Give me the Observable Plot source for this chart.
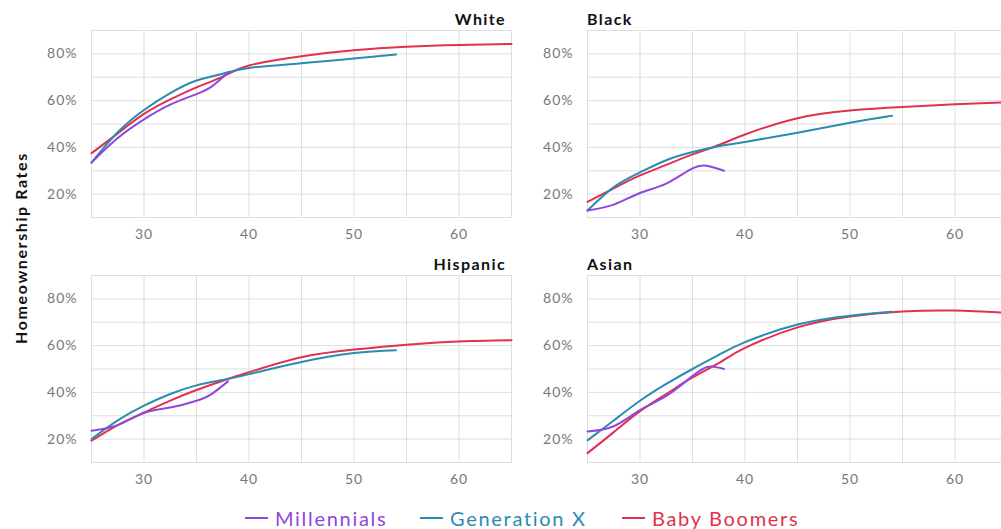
<!DOCTYPE html>
<html>
<head>
<meta charset="utf-8">
<script src="https://cdn.jsdelivr.net/npm/d3@7"></script>
<script src="https://cdn.jsdelivr.net/npm/@observablehq/plot@0.6"></script>
<style>
  html, body { margin: 0; padding: 0; background: #fff; overflow: hidden; }
  body { width: 1001px; height: 529px; position: relative; font-family: Lato, "Open Sans", sans-serif; }
  .panel { position: absolute; }
  .panel svg { max-width: none !important; display: block; }
  .title { position: absolute; font-weight: 700; font-size: 16px; letter-spacing: 1.4px; color: #111; line-height: 1; white-space: nowrap; }
  .ylabel { position: absolute; font-weight: 700; font-size: 16px; letter-spacing: 1.6px; color: #111; white-space: nowrap; line-height: 1;
            transform: translate(-50%, -50%) rotate(-90deg); left: 21px; top: 248px; }
  .leg { position: absolute; top: 507px; font-size: 20px; letter-spacing: 1.7px; line-height: 22px; white-space: nowrap; display: flex; align-items: center; }
  .leg span.sw { display: inline-block; width: 23px; height: 2px; margin-right: 7px; }
</style>
</head>
<body>
<div id="root"></div>
<script>
// ---- data ----
const generations = ["Baby Boomers", "Generation X", "Millennials"];
const genColors = ["#e2304f", "#2b8cb1", "#9047dc"];

const boomerAges = [25, 27.5, 30, 32.5, 35, 37.5, 40, 45, 50, 55, 60, 65];
const genXAges   = [25, 27.5, 30, 32.5, 35, 37.5, 40, 45, 50, 54];
const millAges   = [25, 27.5, 30, 32.5, 35, 36.5, 38];

const whiteBoomers = [37.5, 46, 54.3, 60.5, 65.7, 70.3, 75, 79, 81.5, 83, 83.8, 84.2];
const whiteGenX    = [33.5, 46.5, 56, 63.2, 68.6, 71.5, 74, 76, 78, 79.7];
const whiteMill    = [33.5, 44, 52, 58.3, 62.8, 66.2, 72];

const blackBoomers = [16.7, 22.5, 28, 32.5, 37, 41, 45.5, 52.5, 55.8, 57.3, 58.4, 59.3];
const blackGenX    = [13, 23, 29.3, 34.5, 38, 40.5, 42.3, 46.3, 50.5, 53.5];
const blackMill    = [13, 15.5, 20.5, 24.5, 31, 32, 30];

const hispBoomers  = [19.3, 26, 31.4, 36.5, 41, 45, 48.6, 55, 58.3, 60.4, 61.8, 62.3];
const hispGenX     = [20, 28, 34.3, 39.3, 43, 45.3, 47.8, 53, 56.8, 58];
const hispMill     = [23.6, 26, 31.2, 33.5, 36.4, 39.5, 44.7];

const asianBoomers = [14, 23, 32, 39.3, 46.4, 52.5, 59, 67.8, 72.5, 74.6, 75, 74];
const asianGenX    = [19.5, 28, 36.4, 43.6, 50, 56, 61.5, 69, 72.8, 74.5];
const asianMill    = [23.3, 25.5, 32.4, 38.5, 47, 51, 50];

const xTicks = [30, 40, 50, 60];
const yTicks = [20, 40, 60, 80];

const panels = [
  {name: "White",    b: whiteBoomers, g: whiteGenX, m: whiteMill, left: 0,   top: 0,   ml: 91, align: "right"},
  {name: "Black",    b: blackBoomers, g: blackGenX, m: blackMill, left: 500, top: 0,   ml: 87, align: "left"},
  {name: "Hispanic", b: hispBoomers,  g: hispGenX,  m: hispMill,  left: 0,   top: 245, ml: 91, align: "right"},
  {name: "Asian",    b: asianBoomers, g: asianGenX, m: asianMill, left: 500, top: 245, ml: 87, align: "left"}
];

function rows(p) {
  const out = [];
  boomerAges.forEach((a, i) => out.push({gen: "Baby Boomers", age: a, value: p.b[i]}));
  genXAges.forEach((a, i) => out.push({gen: "Generation X", age: a, value: p.g[i]}));
  millAges.forEach((a, i) => out.push({gen: "Millennials", age: a, value: p.m[i]}));
  return out;
}

const root = document.getElementById("root");
const innerW = 420;

panels.forEach(p => {
  const mr = 5;
  const w = p.ml + innerW + mr;
  const chart = Plot.plot({
    width: w,
    height: 250,
    marginLeft: p.ml,
    marginRight: mr,
    marginTop: 30,
    marginBottom: 33,
    x: {domain: [25, 65], axis: null},
    y: {domain: [10, 90], axis: null},
    color: {domain: generations, range: genColors},
    style: {fontFamily: "Lato, 'Open Sans', sans-serif", fontSize: "14px", letterSpacing: "1px", color: "#777", background: "transparent", overflow: "visible"},
    marks: [
      Plot.gridX(d3.range(25, 66, 5), {stroke: "#dedede", strokeOpacity: 1}),
      Plot.gridY(d3.range(10, 91, 10), {stroke: "#dedede", strokeOpacity: 1}),
      Plot.frame({stroke: "#dedede"}),
      Plot.axisX(xTicks, {tickSize: 0, tickPadding: 12, label: null, fill: "#777"}),
      Plot.axisY(yTicks, {tickSize: 0, tickPadding: 14, label: null, tickFormat: d => d + "%", fill: "#777"}),
      Plot.line(rows(p), {x: "age", y: "value", stroke: "gen", z: "gen", curve: "natural", strokeWidth: 2})
    ]
  });
  const wrap = document.createElement("div");
  wrap.className = "panel";
  wrap.style.left = p.left + "px";
  wrap.style.top = p.top + "px";
  wrap.style.width = w + "px";
  wrap.appendChild(chart);
  root.appendChild(wrap);

  const t = document.createElement("div");
  t.className = "title";
  t.textContent = p.name;
  t.style.top = (p.top + 11) + "px";
  if (p.align === "right") {
    t.style.right = (1001 - (p.left + p.ml + innerW - 5)) + "px";
  } else {
    t.style.left = (p.left + p.ml) + "px";
  }
  root.appendChild(t);
});

const yl = document.createElement("div");
yl.className = "ylabel";
yl.textContent = "Homeownership Rates";
root.appendChild(yl);

const legX = {"Millennials": 245, "Generation X": 420, "Baby Boomers": 622};
["Millennials", "Generation X", "Baby Boomers"].forEach(g => {
  const c = genColors[generations.indexOf(g)];
  const d = document.createElement("div");
  d.className = "leg";
  d.style.left = legX[g] + "px";
  d.style.color = c;
  const sw = document.createElement("span");
  sw.className = "sw";
  sw.style.background = c;
  d.appendChild(sw);
  d.appendChild(document.createTextNode(g));
  root.appendChild(d);
});
</script>
</body>
</html>
